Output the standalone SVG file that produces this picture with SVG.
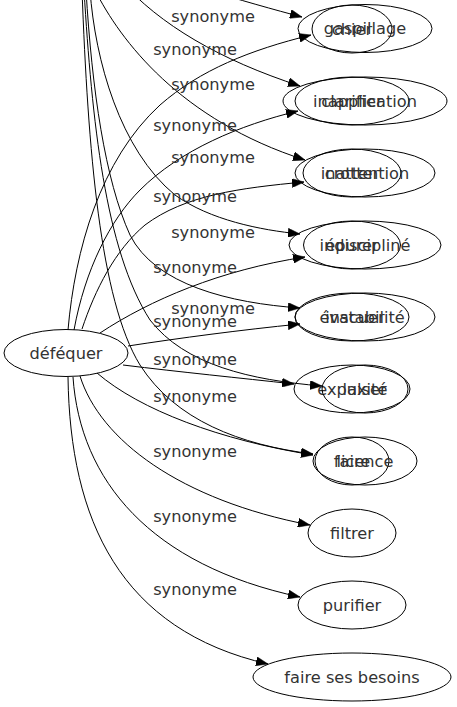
<svg xmlns="http://www.w3.org/2000/svg" width="457" height="707" viewBox="0 0 457 707">
<style>
  .bg { fill: #ffffff; }
  .node ellipse { fill: none; stroke: #000000; stroke-width: 1; }
  .node text, .lbl { font-family: "DejaVu Sans", Verdana, sans-serif; font-size: 16.2px; fill: #333333; text-anchor: middle; }
  .edge { fill: none; stroke: #000000; stroke-width: 1; marker-end: url(#arr); }
</style>
<defs>
  <marker id="arr" markerUnits="userSpaceOnUse" markerWidth="12" markerHeight="9" refX="12" refY="4.5" orient="auto">
    <path d="M0,0 L12,4.5 L0,9 z" fill="#000000" stroke="#000000" stroke-width="0.5"/>
  </marker>
</defs>
<rect class="bg" x="0" y="0" width="457" height="707"/>

<g id="connectors">
  <!-- edges from déféquer -->
  <path class="edge" d="M68,330 C75,250 100,160 160,105 C200,70 250,50 311,35"/>
  <path class="edge" d="M74,330 C85,270 110,220 140,190 C180,150 240,125 298,111"/>
  <path class="edge" d="M82,329 C95,290 115,250 145,225 C185,195 240,188 304,182"/>
  <path class="edge" d="M100,333 C150,300 220,270 305,257"/>
  <path class="edge" d="M128,346 C180,338 240,330 300,324"/>
  <path class="edge" d="M123,365 C180,372 240,378 294,384"/>
  <path class="edge" d="M97,373 C140,410 220,440 313,455"/>
  <path class="edge" d="M80,376 C100,440 180,500 310,525"/>
  <path class="edge" d="M73,377 C80,480 150,565 300,597"/>
  <path class="edge" d="M68,377 C70,520 120,630 268,664"/>
  <!-- edges entering from above -->
  <path class="edge" d="M200,-12 C240,0 275,10 302,17"/>
  <path class="edge" d="M120,-20 C160,25 220,60 300,86"/>
  <path class="edge" d="M95,-10 C120,40 180,120 305,160"/>
  <path class="edge" d="M90,-10 C95,60 120,150 175,195 C210,220 260,230 300,234"/>
  <path class="edge" d="M86,-10 C92,90 105,180 130,235 C155,285 230,303 300,308"/>
  <path class="edge" d="M84,-10 C92,120 105,250 150,320 C185,365 250,380 322,386"/>
  <path class="edge" d="M82,-10 C88,150 100,300 140,365 C175,420 240,445 313,454"/>
  <!-- labels -->
  <text class="lbl" x="213" y="22">synonyme</text>
  <text class="lbl" x="195" y="55">synonyme</text>
  <text class="lbl" x="213" y="90">synonyme</text>
  <text class="lbl" x="195" y="131">synonyme</text>
  <text class="lbl" x="213" y="163">synonyme</text>
  <text class="lbl" x="195" y="202">synonyme</text>
  <text class="lbl" x="213" y="238">synonyme</text>
  <text class="lbl" x="195" y="273">synonyme</text>
  <text class="lbl" x="213" y="314">synonyme</text>
  <text class="lbl" x="195" y="327">synonyme</text>
  <text class="lbl" x="195" y="365">synonyme</text>
  <text class="lbl" x="195" y="402">synonyme</text>
  <text class="lbl" x="195" y="457">synonyme</text>
  <text class="lbl" x="195" y="522">synonyme</text>
  <text class="lbl" x="195" y="595">synonyme</text>
</g>

<g id="n-defequer" class="node"><ellipse cx="66" cy="353" rx="62" ry="23.5"/><text x="66" y="358.5">déféquer</text></g>

<g id="n-chier" class="node"><ellipse cx="352" cy="29" rx="40" ry="24"/><text x="352" y="34.5">chier</text></g>
<g id="n-clarifier" class="node"><ellipse cx="352" cy="101" rx="57" ry="24"/><text x="352" y="106.5">clarifier</text></g>
<g id="n-crotter" class="node"><ellipse cx="352" cy="173" rx="49" ry="24"/><text x="352" y="178.5">crotter</text></g>
<g id="n-epurer" class="node"><ellipse cx="352" cy="245" rx="48.5" ry="24"/><text x="352" y="250.5">épurer</text></g>
<g id="n-evacuer" class="node"><ellipse cx="352" cy="317" rx="57" ry="24"/><text x="352" y="322.5">évacuer</text></g>
<g id="n-expulser" class="node"><ellipse cx="352" cy="389" rx="58" ry="24"/><text x="352" y="394.5">expulser</text></g>
<g id="n-faire" class="node"><ellipse cx="352" cy="461" rx="37" ry="24"/><text x="352" y="466.5">faire</text></g>
<g id="n-filtrer" class="node"><ellipse cx="352" cy="533" rx="44" ry="24"/><text x="352" y="538.5">filtrer</text></g>
<g id="n-purifier" class="node"><ellipse cx="352" cy="605" rx="54" ry="24"/><text x="352" y="610.5">purifier</text></g>
<g id="n-faire-ses-besoins" class="node"><ellipse cx="352" cy="677" rx="99" ry="24"/><text x="352" y="682.5">faire ses besoins</text></g>

<g id="n-gaspillage" class="node"><ellipse cx="365" cy="28.5" rx="67" ry="24"/><text x="365" y="34">gaspillage</text></g>
<g id="n-inapplication" class="node"><ellipse cx="365" cy="101" rx="82" ry="24"/><text x="365" y="106.5">inapplication</text></g>
<g id="n-inattention" class="node"><ellipse cx="365" cy="173" rx="70" ry="24"/><text x="365" y="178.5">inattention</text></g>
<g id="n-indiscipline" class="node"><ellipse cx="365" cy="245" rx="76" ry="24"/><text x="365" y="250.5">indiscipliné</text></g>
<g id="n-instabilite" class="node"><ellipse cx="365" cy="317" rx="70" ry="24"/><text x="365" y="322.5">instabilité</text></g>
<g id="n-laxite" class="node"><ellipse cx="365" cy="389" rx="43" ry="24"/><text x="365" y="394.5">laxité</text></g>
<g id="n-licence" class="node"><ellipse cx="365" cy="461" rx="52" ry="24"/><text x="365" y="466.5">licence</text></g>
</svg>
